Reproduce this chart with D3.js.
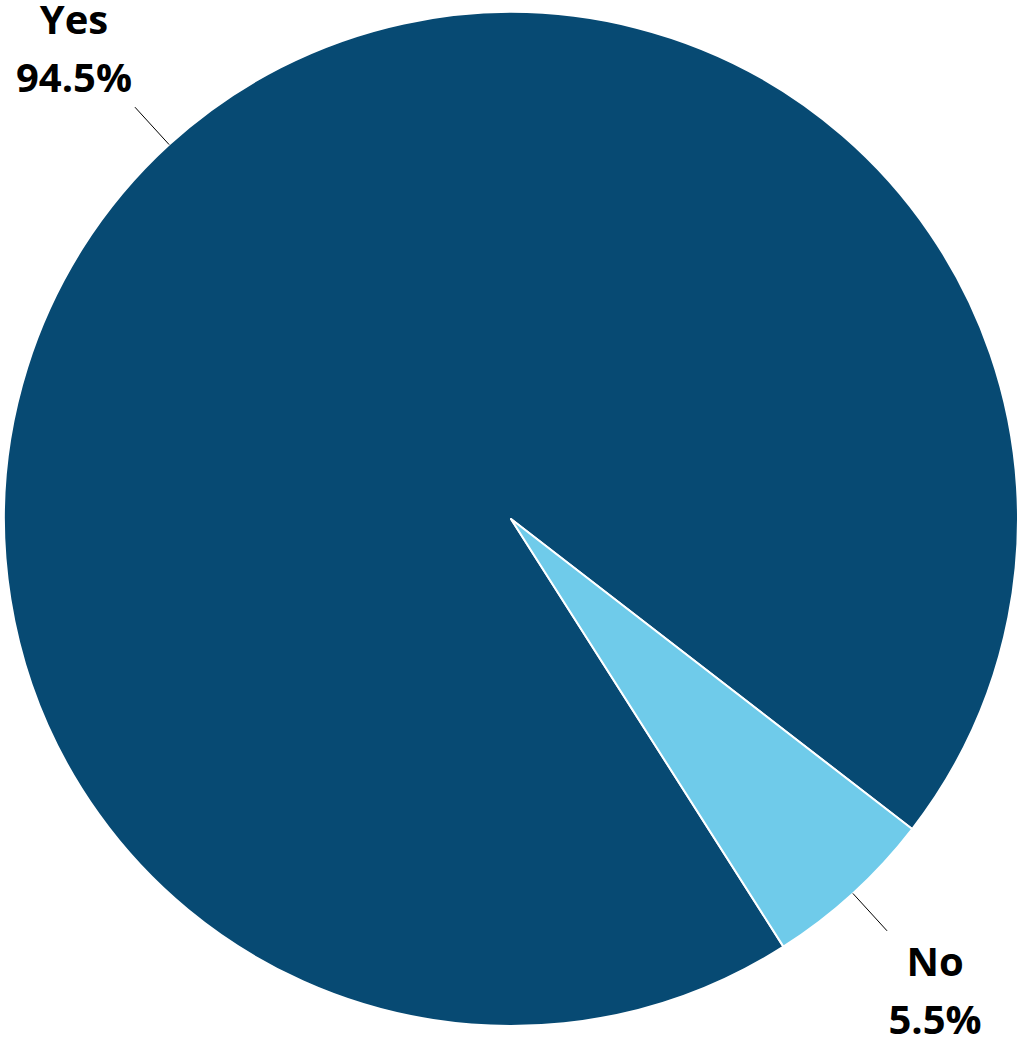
<!DOCTYPE html>
<html>
<head>
<meta charset="utf-8">
<script src="https://cdn.jsdelivr.net/npm/d3@7"></script>
<style>
  html, body { margin: 0; padding: 0; background: #fff; }
  svg { display: block; }
</style>
</head>
<body>
<svg id="chart" width="1020" height="1042"></svg>
<script>
const categories = ["Yes", "No"];
const values = [94.5, 5.5];
const valueLabels = ["94.5%", "5.5%"];
const colors = ["#074A73", "#6FCBEA"];

const W = 1020, H = 1042;
const cx = 511, cy = 519, r = 507;
const startDeg = 147.5;

const svg = d3.select("#chart");
const g = svg.append("g").attr("transform", `translate(${cx},${cy})`);

const data = categories.map((c, i) => ({ cat: c, value: values[i], label: valueLabels[i], color: colors[i] }));

const pie = d3.pie()
  .value(d => d.value)
  .sort(null)
  .startAngle(startDeg * Math.PI / 180)
  .endAngle(startDeg * Math.PI / 180 + 2 * Math.PI);

const arcs = pie(data);
const arc = d3.arc().innerRadius(0).outerRadius(r);

g.selectAll("path.slice")
  .data(arcs)
  .join("path")
  .attr("class", "slice")
  .attr("d", arc)
  .attr("fill", d => d.data.color)
  .attr("stroke", "#ffffff")
  .attr("stroke-width", 2)
  .attr("stroke-linejoin", "round");

// leader lines
const leaderOuter = r * 1.1;
const pt = (a, rad) => [rad * Math.sin(a), -rad * Math.cos(a)];

g.selectAll("line.leader")
  .data(arcs)
  .join("line")
  .attr("class", "leader")
  .attr("x1", d => pt((d.startAngle + d.endAngle) / 2, r)[0])
  .attr("y1", d => pt((d.startAngle + d.endAngle) / 2, r)[1])
  .attr("x2", d => pt((d.startAngle + d.endAngle) / 2, leaderOuter)[0])
  .attr("y2", d => pt((d.startAngle + d.endAngle) / 2, leaderOuter)[1])
  .attr("stroke", "#000")
  .attr("stroke-width", 1);

// labels: positioned beyond the leader end
const labelPos = d => {
  const a = (d.startAngle + d.endAngle) / 2;
  const [x, y] = pt(a, leaderOuter);
  const right = Math.sin(a) >= 0;
  const below = -Math.cos(a) >= 0;
  return [x + (right ? 48 : -61), y + (below ? 45 : -73)];
};

const labels = g.selectAll("text.lbl")
  .data(arcs)
  .join("text")
  .attr("class", "lbl")
  .attr("text-anchor", "middle")
  .attr("font-family", "'Open Sans', 'Liberation Sans', sans-serif")
  .attr("font-weight", "bold")
  .attr("font-size", 40)
  .attr("fill", "#000");

labels.append("tspan")
  .attr("x", d => labelPos(d)[0])
  .attr("y", d => labelPos(d)[1])
  .text(d => d.data.cat);
labels.append("tspan")
  .attr("x", d => labelPos(d)[0])
  .attr("y", d => labelPos(d)[1] + 58)
  .text(d => d.data.label);
</script>
</body>
</html>
